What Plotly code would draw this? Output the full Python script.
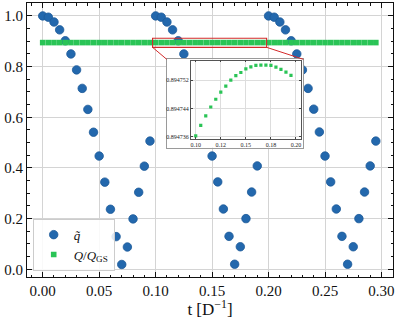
import plotly.graph_objects as go

# ---------------- data ----------------
t_values = [0.000, 0.005, 0.010, 0.015, 0.020, 0.025, 0.030, 0.035, 0.040, 0.045,
            0.050, 0.055, 0.060, 0.065, 0.070, 0.075, 0.080, 0.085, 0.090, 0.095,
            0.100, 0.105, 0.110, 0.115, 0.120, 0.125, 0.130, 0.135, 0.140, 0.145,
            0.150, 0.155, 0.160, 0.165, 0.170, 0.175, 0.180, 0.185, 0.190, 0.195,
            0.200, 0.205, 0.210, 0.215, 0.220, 0.225, 0.230, 0.235, 0.240, 0.245,
            0.250, 0.255, 0.260, 0.265, 0.270, 0.275, 0.280, 0.285, 0.290, 0.295]

q_tilde = [1.000, 0.995, 0.976, 0.945, 0.902, 0.850, 0.787, 0.714, 0.631, 0.541,
           0.447, 0.344, 0.237, 0.129, 0.019, 0.088, 0.199, 0.304, 0.407, 0.506,
           1.000, 0.995, 0.976, 0.945, 0.902, 0.850, 0.787, 0.714, 0.632, 0.542,
           0.447, 0.345, 0.238, 0.130, 0.020, 0.089, 0.200, 0.305, 0.408, 0.506,
           1.000, 0.995, 0.976, 0.945, 0.902, 0.850, 0.787, 0.714, 0.632, 0.542,
           0.447, 0.345, 0.238, 0.130, 0.020, 0.089, 0.200, 0.305, 0.408, 0.506]

Q_ratio = [0.8947362, 0.8947392, 0.8947419, 0.8947444, 0.8947466, 0.8947486, 0.8947503, 0.8947520, 0.8947533, 0.8947542,
           0.8947552, 0.8947558, 0.8947562, 0.8947563, 0.8947563, 0.8947562, 0.8947557, 0.8947551, 0.8947543, 0.8947534,
           0.8947362, 0.8947392, 0.8947419, 0.8947444, 0.8947466, 0.8947486, 0.8947503, 0.8947520, 0.8947533, 0.8947542,
           0.8947552, 0.8947558, 0.8947562, 0.8947563, 0.8947563, 0.8947562, 0.8947557, 0.8947551, 0.8947543, 0.8947534,
           0.8947362, 0.8947392, 0.8947419, 0.8947444, 0.8947466, 0.8947486, 0.8947503, 0.8947520, 0.8947533, 0.8947542,
           0.8947552, 0.8947558, 0.8947562, 0.8947563, 0.8947563, 0.8947562, 0.8947557, 0.8947551, 0.8947543, 0.8947534]

inset_t_window = [0.100, 0.195]
zoom_box_x = [0.0973, 0.1983]
zoom_box_y = [0.876, 0.912]

inset_x_tickvals = [0.100, 0.125, 0.150, 0.175, 0.200]
inset_x_ticktext = ["0.10", "0.12", "0.15", "0.18", "0.20"]
inset_y_tickvals = [0.894736, 0.894744, 0.894752]

# ---------------- styling ----------------
FONT = "Liberation Serif"
BLUE = "#2368ad"
GREEN = "#2ac456"
GRID = "#d4d4d4"

W, H = 399, 319
MAIN_X_RANGE = [-0.0139, 0.3102]
MAIN_Y_RANGE = [-0.0304, 1.051]

# inset outer (white box) and inner (axes) domains in paper coords
OUTER_DX = [0.3817, 0.7549]
OUTER_DY = [0.4719, 0.7945]
INNER_DX = [0.4473, 0.7478]
INNER_DY = [0.5036, 0.7901]

inset_idx = [i for i, tv in enumerate(t_values) if inset_t_window[0] - 1e-9 <= tv <= inset_t_window[1] + 1e-9]
inset_t = [t_values[i] for i in inset_idx]
inset_Q = [Q_ratio[i] for i in inset_idx]

fig = go.Figure()

fig.add_trace(go.Scatter(
    x=t_values, y=q_tilde, mode="markers", name="<i>q̃</i>",
    marker=dict(symbol="circle", size=8.5, color=BLUE, line=dict(width=0.8, color="#1d5a99")),
    xaxis="x", yaxis="y"))
fig.add_trace(go.Scatter(
    x=t_values, y=Q_ratio, mode="markers", name="<i>Q</i>/<i>Q</i><sub>GS</sub>",
    marker=dict(symbol="square", size=5.6, color=GREEN, line=dict(width=0)),
    xaxis="x", yaxis="y"))

# empty white box behind inset
fig.add_trace(go.Scatter(x=[None], y=[None], mode="markers", showlegend=False,
                         hoverinfo="skip", xaxis="x2", yaxis="y2"))

fig.add_trace(go.Scatter(
    x=inset_t, y=inset_Q, mode="markers", showlegend=False,
    marker=dict(symbol="square", size=3.2, color=GREEN, line=dict(width=0)),
    xaxis="x3", yaxis="y3"))

tickfont = dict(family=FONT, size=15, color="#111")

fig.update_layout(
    width=W, height=H,
    margin=dict(l=27, r=6, t=3, b=42, autoexpand=False),
    paper_bgcolor="white", plot_bgcolor="white",
    font=dict(family=FONT, color="#111"),
    showlegend=True,
    legend=dict(x=0.0156, y=0.023, xanchor="left", yanchor="bottom",
                bgcolor="rgba(255,255,255,0.85)", bordercolor="#cccccc", borderwidth=1,
                font=dict(family=FONT, size=13, color="#111"),
                itemwidth=30, tracegroupgap=0),
    xaxis=dict(domain=[0, 1], range=MAIN_X_RANGE, tick0=0, dtick=0.05, tickformat=".2f",
               ticks="inside", ticklen=5, tickwidth=1, tickcolor="#111",
               minor=dict(dtick=0.01, ticks="inside", ticklen=2.5, tickcolor="#111", showgrid=False),
               showline=True, linecolor="#111", linewidth=1, mirror="allticks",
               showgrid=True, gridcolor=GRID, gridwidth=1, zeroline=False,
               tickfont=tickfont, automargin=True,
               title=dict(text="t [D<sup>−1</sup>]", font=dict(family=FONT, size=17, color="#111"), standoff=6)),
    yaxis=dict(domain=[0, 1], range=MAIN_Y_RANGE, tick0=0, dtick=0.2, tickformat=".1f",
               ticks="inside", ticklen=5, tickwidth=1, tickcolor="#111",
               minor=dict(dtick=0.05, ticks="inside", ticklen=2.5, tickcolor="#111", showgrid=False),
               showline=True, linecolor="#111", linewidth=1, mirror="allticks",
               showgrid=True, gridcolor=GRID, gridwidth=1, zeroline=False,
               tickfont=tickfont, automargin=False),
    xaxis2=dict(domain=OUTER_DX, anchor="y2", range=[0, 1], showline=True, mirror=True,
                linecolor="#9a9a9a", linewidth=1, showgrid=False, zeroline=False,
                showticklabels=False, ticks="", automargin=False),
    yaxis2=dict(domain=OUTER_DY, anchor="x2", range=[0, 1], showline=True, mirror=True,
                linecolor="#9a9a9a", linewidth=1, showgrid=False, zeroline=False,
                showticklabels=False, ticks="", automargin=False),
    xaxis3=dict(domain=INNER_DX, anchor="y3", range=[0.095, 0.2047],
                tickvals=inset_x_tickvals, ticktext=inset_x_ticktext,
                ticks="inside", ticklen=2, tickcolor="#444", tickwidth=0.6,
                showline=True, linecolor="#555", linewidth=0.7, mirror="allticks",
                showgrid=True, gridcolor="#dddddd", gridwidth=0.7, zeroline=False,
                tickfont=dict(family=FONT, size=6, color="#222"), ticklabelstandoff=0,
                automargin=False),
    yaxis3=dict(domain=INNER_DY, anchor="x3", range=[0.8947353, 0.8947576],
                tickvals=inset_y_tickvals, tickformat=".6f",
                ticks="inside", ticklen=2, tickcolor="#444", tickwidth=0.6,
                showline=True, linecolor="#555", linewidth=0.7, mirror="allticks",
                showgrid=True, gridcolor="#dddddd", gridwidth=0.7, zeroline=False,
                tickfont=dict(family=FONT, size=6, color="#222"), ticklabelstandoff=0,
                automargin=False),
)

def paper_to_data_x(px):
    return MAIN_X_RANGE[0] + px * (MAIN_X_RANGE[1] - MAIN_X_RANGE[0])

def paper_to_data_y(py):
    return MAIN_Y_RANGE[0] + py * (MAIN_Y_RANGE[1] - MAIN_Y_RANGE[0])

RED = "#d42a2a"
fig.add_shape(type="rect", xref="x", yref="y", x0=zoom_box_x[0], x1=zoom_box_x[1],
              y0=zoom_box_y[0], y1=zoom_box_y[1], line=dict(color=RED, width=1.1),
              fillcolor="rgba(0,0,0,0)", layer="above")
fig.add_shape(type="line", xref="x", yref="y", x0=zoom_box_x[0], y0=zoom_box_y[0],
              x1=paper_to_data_x(OUTER_DX[0]), y1=paper_to_data_y(OUTER_DY[1]),
              line=dict(color=RED, width=1), layer="above")
fig.add_shape(type="line", xref="x", yref="y", x0=zoom_box_x[1], y0=zoom_box_y[0],
              x1=paper_to_data_x(OUTER_DX[1]), y1=paper_to_data_y(OUTER_DY[1]),
              line=dict(color=RED, width=1), layer="above")

fig.write_html("out.html", config={"displayModeBar": False},
               post_script="document.body.style.margin='0';document.body.style.padding='0';")
